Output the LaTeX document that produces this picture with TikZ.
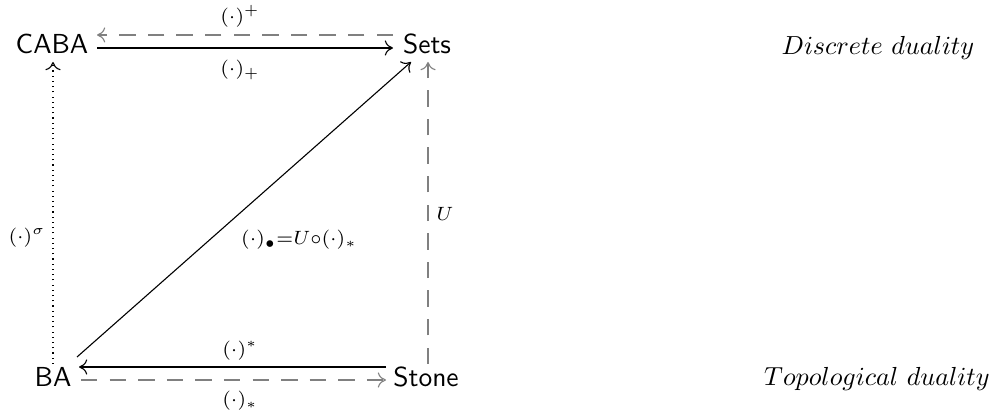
\documentclass[tikz,border=0pt]{standalone}
\usetikzlibrary{arrows.meta}
\begin{document}
\begin{tikzpicture}[x=0.01279cm,y=-0.01279cm,
  obj/.style={font=\sffamily, inner sep=0pt, anchor=base},
  arr/.style={-{To[length=3pt,width=5.5pt]}, line width=0.4pt},
  dsh/.style={arr, gray, dash pattern=on 6pt off 4.4pt},
  dot/.style={arr, dash pattern=on 0.4pt off 1.5pt},
  lab/.style={font=\scriptsize, inner sep=1pt},
  side/.style={inner sep=0pt, anchor=base, scale=0.95, transform shape}]
\useasboundingbox (0,0) rectangle (995,413);
\node[obj] (caba) at (52,54) {CABA};
\node[obj] (sets) at (427,54) {Sets};
\node[obj] (ba) at (53,387) {BA};
\node[obj] (stone) at (426,387) {Stone};
\node[side] (dd) at (878,55) {$Discrete\ duality$};
\node[side] (td) at (877,386) {$Topological\ duality$};
% top
\coordinate (t1s) at (97,48); \coordinate (t1e) at (393,48);
\draw[arr] (t1s) -- (t1e);
\coordinate (t2s) at (393,35); \coordinate (t2e) at (97,35);
\draw[dsh] (t2s) -- (t2e);
\node[lab] (lp) at (240,16) {$(\cdot)^{+}$};
\node[lab] (lm) at (240,70) {$(\cdot)_{+}$};
% bottom
\coordinate (b1s) at (386,367); \coordinate (b1e) at (79,367);
\draw[arr] (b1s) -- (b1e);
\coordinate (b2s) at (81,380); \coordinate (b2e) at (386,380);
\draw[dsh] (b2s) -- (b2e);
\node[lab] (ls) at (240,351) {$(\cdot)^{*}$};
\node[lab] (ld) at (240,401) {$(\cdot)_{*}$};
% verticals
\coordinate (v1s) at (53,364); \coordinate (v1e) at (53,62);
\draw[dot] (v1s) -- (v1e);
\node[lab] (lsig) at (27,238) {$(\cdot)^{\sigma}$};
\coordinate (v2s) at (428,364); \coordinate (v2e) at (428,62);
\draw[dsh] (v2s) -- (v2e);
\node[lab] (lu) at (445,214) {$U$};
% diagonal
\coordinate (ds) at (77,357); \coordinate (de) at (411,62);
\draw[arr] (ds) -- (de);
\node[lab] (ldg) at (299,240) {$(\cdot)_{\bullet}{=}U{\circ}(\cdot)_{*}$};
\end{tikzpicture}
\end{document}
